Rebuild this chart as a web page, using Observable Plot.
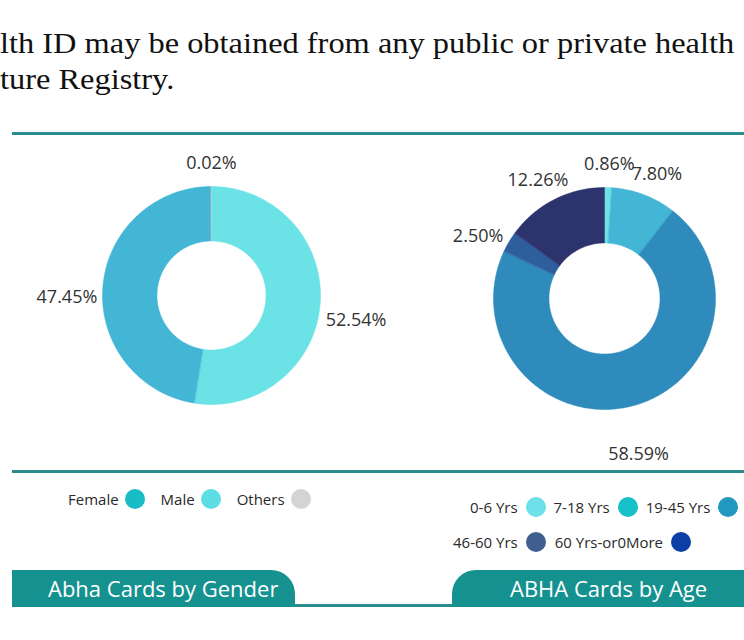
<!DOCTYPE html>
<html>
<head>
<meta charset="utf-8">
<script src="https://cdn.jsdelivr.net/npm/d3@7"></script>
<script src="https://cdn.jsdelivr.net/npm/@observablehq/plot@0.6"></script>
<style>
  html, body { margin: 0; padding: 0; background: #fff; }
  body { width: 744px; height: 640px; position: relative; overflow: hidden; font-family: "Open Sans", sans-serif; }
  .serif { position: absolute; left: 0; font-family: "Liberation Serif", "Times New Roman", serif; font-size: 30px; line-height: 1; color: #111; white-space: nowrap; transform: scaleX(1.08); transform-origin: 0 0; }
  .rule { position: absolute; left: 12px; right: 0; height: 3px; background: #2a8c8c; }
  .plotbox { position: absolute; width: 380px; height: 340px; }
  .plotbox svg { max-width: none !important; }
  .legend { position: absolute; display: flex; align-items: center; color: #2a2a2a; white-space: nowrap; }
  .legend .item { display: flex; align-items: center; }
  .legend .dot { width: 20px; height: 20px; border-radius: 50%; display: inline-block; }
  .tab { position: absolute; top: 570px; height: 37px; line-height: 37px; background: #15918f; color: #fff; font-size: 22px; white-space: nowrap; }
</style>
</head>
<body>
<div class="serif" style="top:28px">lth ID may be obtained from any public or private health</div>
<div class="serif" style="top:64px">ture Registry.</div>

<div class="rule" style="top:132px"></div>
<div class="rule" style="top:470px"></div>
<div class="rule" style="top:604px"></div>

<div id="left" class="plotbox" style="left:21px;top:125px"></div>
<div id="right" class="plotbox" style="left:413.5px;top:128px"></div>

<div id="legGender" class="legend" style="left:68px;top:489px;font-size:15px"></div>
<div id="legAge1" class="legend" style="left:470px;top:497px;font-size:15px"></div>
<div id="legAge2" class="legend" style="left:453px;top:532px;font-size:15px"></div>

<div class="tab" style="left:12px;width:283px;border-top-right-radius:24px"><span style="padding-left:36px">Abha Cards by Gender</span></div>
<div class="tab" style="left:452px;width:292px;border-top-left-radius:24px"><span style="padding-left:58px">ABHA Cards by Age</span></div>

<script>
// ---- Data ----
// Gender donut (drawn clockwise from 12 o'clock in this order)
const genderSlices = ["Male", "Female", "Others"];
const genderValues = [52.54, 47.45, 0.02];
const genderColors = ["#6be3e6", "#42b6d4", "#d3d3d3"];

// Age donut (clockwise from 12 o'clock)
const ageSlices = ["0-6 Yrs", "7-18 Yrs", "19-45 Yrs", "46-60 Yrs", "60 Yrs-or0More"];
const ageValues = [0.86, 7.80, 58.59, 2.50, 12.26];
const ageColors = ["#6be3e6", "#42b6d4", "#2e8bbb", "#2f5e9c", "#2d336c"];

// Legends
const genderLegend = ["Female", "Male", "Others"];
const genderLegendColors = ["#17bcc4", "#5ddde4", "#d4d4d4"];
const ageLegendRow1 = ["0-6 Yrs", "7-18 Yrs", "19-45 Yrs"];
const ageLegendRow1Colors = ["#6ee0ea", "#16c0c8", "#2098c0"];
const ageLegendRow2 = ["46-60 Yrs", "60 Yrs-or0More"];
const ageLegendRow2Colors = ["#3f5f8e", "#0c3fa6"];

// ---- Donut builder ----
function donut(names, values, colors, R) {
  const W = 380, H = 340, inner = 0.5, labelR = (R + 36) / R;
  const arcs = d3.pie().sort(null).value(d => d)(values);
  const marks = [];
  arcs.forEach((a, i) => {
    const n = Math.max(2, Math.ceil((a.endAngle - a.startAngle) / (Math.PI / 180)));
    const pts = [];
    for (let k = 0; k <= n; k++) {
      const t = a.startAngle + (a.endAngle - a.startAngle) * k / n;
      pts.push({x: Math.sin(t), y: -Math.cos(t)});
    }
    for (let k = n; k >= 0; k--) {
      const t = a.startAngle + (a.endAngle - a.startAngle) * k / n;
      pts.push({x: inner * Math.sin(t), y: -inner * Math.cos(t)});
    }
    marks.push(Plot.line(pts, {x: "x", y: "y", fill: colors[i], stroke: colors[i], strokeWidth: 0.5, curve: "linear-closed"}));
  });
  const labels = arcs.map((a, i) => {
    const m = (a.startAngle + a.endAngle) / 2;
    return {name: names[i], x: labelR * Math.sin(m), y: -labelR * Math.cos(m), text: values[i].toFixed(2) + "%"};
  });
  marks.push(Plot.text(labels, {x: "x", y: "y", text: "text", textAnchor: "middle", lineAnchor: "middle", dy: 13,
    fontSize: 18, fill: "#333", fontFamily: "Open Sans"}));
  return Plot.plot({
    width: W, height: H, margin: 0,
    x: {domain: [-(W / 2) / R, (W / 2) / R], range: [0, W], axis: null},
    y: {domain: [-(H / 2) / R, (H / 2) / R], range: [0, H], axis: null},
    style: {background: "transparent", overflow: "visible", fontFamily: "Open Sans", maxWidth: "none"},
    marks
  });
}

document.getElementById("left").appendChild(donut(genderSlices, genderValues, genderColors, 109));
document.getElementById("right").appendChild(donut(ageSlices, ageValues, ageColors, 111));

// ---- Legends ----
function legend(id, names, colors, gapText, gapItem) {
  const el = document.getElementById(id);
  names.forEach((n, i) => {
    const item = document.createElement("span");
    item.className = "item";
    item.style.marginRight = i < names.length - 1 ? gapItem + "px" : "0";
    const t = document.createElement("span");
    t.textContent = n;
    t.style.marginRight = gapText + "px";
    const d = document.createElement("span");
    d.className = "dot";
    d.style.background = colors[i];
    item.appendChild(t); item.appendChild(d);
    el.appendChild(item);
  });
}
legend("legGender", genderLegend, genderLegendColors, 6, 16);
legend("legAge1", ageLegendRow1, ageLegendRow1Colors, 8, 8);
legend("legAge2", ageLegendRow2, ageLegendRow2Colors, 8, 9);
</script>
</body>
</html>
